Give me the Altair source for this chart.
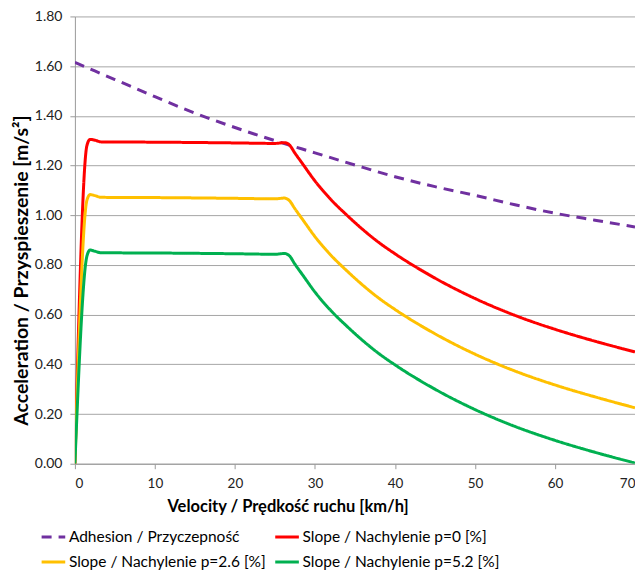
import altair as alt
import pandas as pd

adh_v = [0, 5, 10, 15, 20, 25, 30, 35, 40, 45, 50, 55, 60, 65, 70]
adh_a = [1.615, 1.546, 1.477, 1.411, 1.353, 1.30, 1.251, 1.202, 1.155, 1.115, 1.08, 1.042, 1.008, 0.98, 0.953]

slope_v = [0, 1.5, 1.9, 2.5, 3.3, 10, 20, 25, 26.2, 26.8, 27.5, 28.5, 30, 32, 34, 36, 38, 40, 45, 50, 55, 60, 65, 70]
red_a = [0, 1.28, 1.305, 1.302, 1.295, 1.294, 1.291, 1.289, 1.292, 1.283, 1.25, 1.205, 1.138, 1.063, 1.00, 0.942, 0.890, 0.845, 0.747, 0.665, 0.597, 0.541, 0.493, 0.45]
yel_a = [0, 1.06, 1.083, 1.079, 1.072, 1.071, 1.068, 1.066, 1.069, 1.059, 1.026, 0.981, 0.914, 0.839, 0.776, 0.718, 0.666, 0.621, 0.523, 0.441, 0.373, 0.317, 0.269, 0.225]
grn_a = [0, 0.835, 0.86, 0.855, 0.849, 0.848, 0.845, 0.843, 0.846, 0.837, 0.803, 0.758, 0.691, 0.616, 0.553, 0.495, 0.443, 0.398, 0.300, 0.218, 0.150, 0.094, 0.046, 0.003]

names = ["Adhesion / Przyczepność", "Slope / Nachylenie p=0 [%]",
         "Slope / Nachylenie p=2.6 [%]", "Slope / Nachylenie p=5.2 [%]"]
colors = ["#7030A0", "#FF0000", "#FFC000", "#00B050"]
dashes = [[10, 7], [1, 0], [1, 0], [1, 0]]

# legend fills column by column, so order entries to read row-wise
legend_order = [0, 2, 1, 3]
dom = [names[i] for i in legend_order]
col_rng = [colors[i] for i in legend_order]
dash_rng = [dashes[i] for i in legend_order]

rows = []
for v, a in zip(adh_v, adh_a):
    rows.append({"v": v, "a": a, "s": names[0]})
for i, ser in enumerate([red_a, yel_a, grn_a]):
    for v, a in zip(slope_v, ser):
        rows.append({"v": v, "a": a, "s": names[i + 1]})
df = pd.DataFrame(rows)

FONT = "Lato"

chart = alt.Chart(df).mark_line(strokeWidth=3, interpolate="monotone", clip=True).encode(
    x=alt.X("v:Q", scale=alt.Scale(domain=[0, 70], nice=False),
            axis=alt.Axis(title="Velocity / Prędkość ruchu [km/h]", values=list(range(0, 71, 10)),
                          grid=False, tickSize=5, labelPadding=8, labelFontSize=13.5,
                          titleFontSize=16.5, titleX=213, titleY=43, titleAlign="center",
                          titleBaseline="middle")),
    y=alt.Y("a:Q", scale=alt.Scale(domain=[0, 1.8], nice=False),
            axis=alt.Axis(title="Acceleration / Przyspieszenie [m/s²]", format=".2f",
                          values=[round(i * 0.2, 1) for i in range(10)],
                          tickSize=5, labelPadding=8, labelFontSize=14,
                          titleFontSize=19.5, titleX=-53, titleY=254, titleAlign="center",
                          titleBaseline="middle", titleAngle=270)),
    color=alt.Color("s:N", scale=alt.Scale(domain=dom, range=col_rng), sort=dom,
                    legend=alt.Legend(title=None, orient="none", legendX=-35, legendY=508,
                                      columns=2, symbolType="stroke", symbolSize=560,
                                      symbolStrokeWidth=3, labelFontSize=15.5, labelFont=FONT,
                                      labelColor="#000000", columnPadding=2, rowPadding=3,
                                      labelOffset=2, labelLimit=400)),
    strokeDash=alt.StrokeDash("s:N", scale=alt.Scale(domain=dom, range=dash_rng), sort=dom,
                              legend=None),
    detail="s:N",
    order="v:Q",
).properties(
    width=561, height=448,
    autosize=alt.AutoSizeParams(type="none"),
    padding={"left": 67, "top": 8, "right": 0, "bottom": 107},
).configure_view(stroke=None).configure_axis(
    labelFont=FONT, titleFont=FONT,
    labelColor="#222222", titleColor="#000000", titleFontWeight="bold",
    domainColor="#9a9a9a", tickColor="#9a9a9a", gridColor="#a6a6a6",
    domainWidth=1, gridWidth=1,
)

chart.save("out.html", embed_options={"renderer": "svg", "actions": False})
